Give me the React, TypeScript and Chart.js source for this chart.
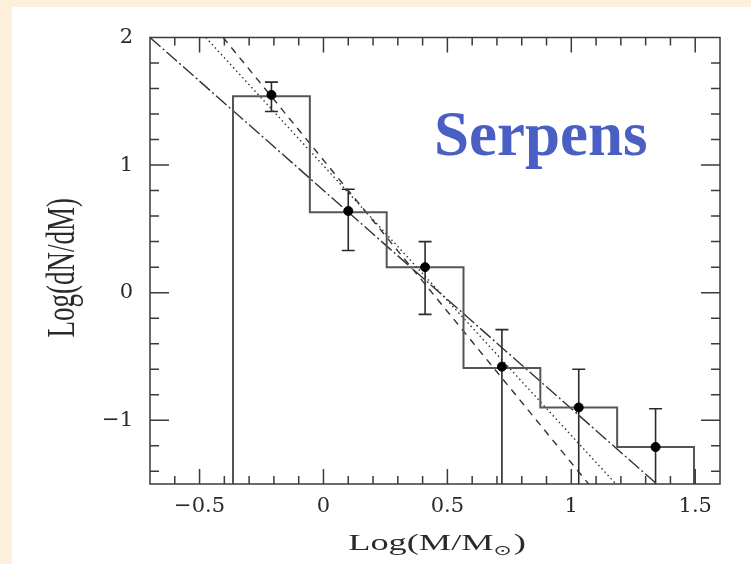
import React, { useEffect, useRef } from "react";
import { Chart, registerables } from "chart.js";

Chart.register(...registerables);

// ---- data ----
const binEdges = [-0.365, -0.055, 0.255, 0.565, 0.875, 1.185, 1.495];
const binLogN = [1.54, 0.63, 0.2, -0.59, -0.9, -1.21];
const pointLogM = [-0.21, 0.1, 0.41, 0.72, 1.03, 1.34];
const pointLogN = [1.55, 0.64, 0.2, -0.58, -0.9, -1.21];
const errUpper = [1.65, 0.81, 0.4, -0.29, -0.6, -0.91];
const errLower = [1.42, 0.33, -0.17, -1.5, -1.5, -1.5];
const fitDashDotX = [-0.7, 1.345];
const fitDashDotY = [2.0, -1.5];
const fitDashedX = [-0.405, 1.07];
const fitDashedY = [2.0, -1.5];
const fitDottedX = [-0.475, 1.18];
const fitDottedY = [2.0, -1.5];
const xTickValues = [-0.5, 0, 0.5, 1, 1.5];
const yTickValues = [2, 1, 0, -1];
const X_MIN = -0.7;
const X_MAX = 1.6;
const Y_MIN = -1.5;
const Y_MAX = 2;
const REGION_LABEL = "Serpens";
const Y_TITLE = "Log(dN/dM)";
const X_TITLE_MAIN = "Log(M/M";
const X_TITLE_SUB = "\u2299";
const X_TITLE_END = ")";

const fmt = (v: number) => (v < 0 ? "\u2212" + Math.abs(v) : String(v));

const histPoints = (() => {
  const pts: { x: number; y: number }[] = [{ x: binEdges[0], y: Y_MIN }];
  binLogN.forEach((h, i) => {
    pts.push({ x: binEdges[i], y: h });
    pts.push({ x: binEdges[i + 1], y: h });
  });
  pts.push({ x: binEdges[binEdges.length - 1], y: Y_MIN });
  return pts;
})();

const pair = (xs: number[], ys: number[]) => xs.map((x, i) => ({ x, y: ys[i] }));

const decor = {
  id: "decor",
  beforeDraw(chart: any) {
    const ctx = chart.ctx;
    ctx.save();
    ctx.fillStyle = "#fcf0dc";
    ctx.fillRect(0, 0, chart.width, chart.height);
    ctx.fillStyle = "#ffffff";
    ctx.fillRect(12, 7, chart.width - 12, chart.height - 7);
    ctx.restore();
  },
  beforeDatasetsDraw(chart: any) {
    const ctx = chart.ctx;
    const xs = chart.scales.x;
    const ys = chart.scales.y;
    const area = chart.chartArea;
    ctx.save();
    ctx.beginPath();
    ctx.rect(area.left, area.top, area.right - area.left, area.bottom - area.top);
    ctx.clip();
    ctx.strokeStyle = "#2a2a2a";
    ctx.lineWidth = 1.6;
    pointLogM.forEach((m, i) => {
      const px = xs.getPixelForValue(m);
      const pt = ys.getPixelForValue(errUpper[i]);
      const pb = ys.getPixelForValue(errLower[i]);
      ctx.beginPath();
      ctx.moveTo(px, pt);
      ctx.lineTo(px, pb);
      ctx.moveTo(px - 6.5, pt);
      ctx.lineTo(px + 6.5, pt);
      if (errLower[i] > Y_MIN) {
        ctx.moveTo(px - 6.5, pb);
        ctx.lineTo(px + 6.5, pb);
      }
      ctx.stroke();
    });
    ctx.restore();
  },
  afterDatasetsDraw(chart: any) {
    const ctx = chart.ctx;
    const xs = chart.scales.x;
    const ys = chart.scales.y;
    const { left, right, top, bottom } = chart.chartArea;
    ctx.save();
    ctx.strokeStyle = "#3a3a3a";
    ctx.lineWidth = 1.5;
    // inward ticks
    ctx.beginPath();
    for (let k = 1; k < Math.round((X_MAX - X_MIN) / 0.1); k++) {
      const v = X_MIN + k * 0.1;
      const major = Math.abs(v * 2 - Math.round(v * 2)) < 1e-6;
      const len = major ? 15 : 8;
      const px = xs.getPixelForValue(v);
      ctx.moveTo(px, bottom);
      ctx.lineTo(px, bottom - len);
      ctx.moveTo(px, top);
      ctx.lineTo(px, top + len);
    }
    for (let k = 1; k < Math.round((Y_MAX - Y_MIN) / 0.1); k++) {
      const v = Y_MIN + k * 0.1;
      const r = Math.round(v * 10);
      if (r % 2 !== 0) continue;
      const major = r % 10 === 0;
      const len = major ? 19 : 9;
      const py = ys.getPixelForValue(v);
      ctx.moveTo(left, py);
      ctx.lineTo(left + len, py);
      ctx.moveTo(right, py);
      ctx.lineTo(right - len, py);
    }
    ctx.stroke();
    // frame
    ctx.strokeRect(left, top, right - left, bottom - top);

    // region label
    ctx.fillStyle = "#4a5fc4";
    ctx.font = "bold 63px 'Liberation Serif'";
    ctx.textAlign = "left";
    ctx.textBaseline = "alphabetic";
    ctx.fillText(REGION_LABEL, 434, 155);

    // y title
    ctx.fillStyle = "#2a2a2a";
    ctx.save();
    ctx.translate(63, (top + bottom) / 2 + 7);
    ctx.scale(1.5, 1);
    ctx.rotate(-Math.PI / 2);
    ctx.font = "27px 'Liberation Serif'";
    ctx.textAlign = "center";
    ctx.textBaseline = "middle";
    ctx.fillText(Y_TITLE, 0, 0);
    ctx.restore();

    // x title
    ctx.save();
    ctx.font = "23px 'Liberation Serif'";
    const wMain = ctx.measureText(X_TITLE_MAIN).width;
    ctx.font = "14px 'DejaVu Sans'";
    const wSub = ctx.measureText(X_TITLE_SUB).width;
    ctx.font = "23px 'Liberation Serif'";
    const wEnd = ctx.measureText(X_TITLE_END).width;
    const sx = 1.58;
    const total = (wMain + wSub + wEnd + 1) * sx;
    ctx.translate((left + right) / 2 + 2 - total / 2, 550);
    ctx.scale(sx, 1);
    ctx.textAlign = "left";
    ctx.textBaseline = "alphabetic";
    ctx.fillText(X_TITLE_MAIN, 0, 0);
    ctx.font = "14px 'DejaVu Sans'";
    ctx.fillText(X_TITLE_SUB, wMain, 5);
    ctx.font = "23px 'Liberation Serif'";
    ctx.fillText(X_TITLE_END, wMain + wSub + 1, 0);
    ctx.restore();

    ctx.restore();
  },
};

export default function App() {
  const ref = useRef<HTMLCanvasElement | null>(null);
  useEffect(() => {
    if (!ref.current) return;
    const tickFont = { family: "'DejaVu Serif'", size: 21 };
    const chart = new Chart(ref.current, {
      type: "scatter",
      data: {
        datasets: [
          {
            label: "data",
            data: pair(pointLogM, pointLogN),
            backgroundColor: "#000000",
            borderColor: "#000000",
            pointRadius: 4.5,
            showLine: false,
          },
          {
            label: "histogram",
            data: histPoints,
            showLine: true,
            borderColor: "#555555",
            borderWidth: 2,
            pointRadius: 0,
            fill: false,
          },
          {
            label: "fit dash-dot",
            data: pair(fitDashDotX, fitDashDotY),
            showLine: true,
            borderColor: "#333333",
            borderWidth: 1.4,
            borderDash: [14, 3, 2, 3],
            pointRadius: 0,
          },
          {
            label: "fit dashed",
            data: pair(fitDashedX, fitDashedY),
            showLine: true,
            borderColor: "#333333",
            borderWidth: 1.4,
            borderDash: [7, 6],
            pointRadius: 0,
          },
          {
            label: "fit dotted",
            data: pair(fitDottedX, fitDottedY),
            showLine: true,
            borderColor: "#333333",
            borderWidth: 1.4,
            borderDash: [1.5, 3],
            pointRadius: 0,
          },
        ],
      } as any,
      options: {
        animation: false,
        responsive: false,
        maintainAspectRatio: false,
        layout: { padding: { top: 37.5, right: 31, left: 0, bottom: 0 } },
        plugins: { legend: { display: false }, tooltip: { enabled: false }, title: { display: false } },
        scales: {
          x: {
            type: "linear",
            min: X_MIN,
            max: X_MAX,
            grid: { display: false, drawTicks: false },
            border: { display: false },
            afterFit: (s: any) => {
              s.height = 80;
            },
            afterBuildTicks: (s: any) => {
              s.ticks = xTickValues.map((v) => ({ value: v }));
            },
            ticks: {
              font: tickFont,
              color: "#2a2a2a",
              padding: 10,
              maxRotation: 0,
              autoSkip: false,
              callback: (v: any) => fmt(Number(v)),
            },
          },
          y: {
            type: "linear",
            min: Y_MIN,
            max: Y_MAX,
            grid: { display: false, drawTicks: false },
            border: { display: false },
            afterFit: (s: any) => {
              s.width = 150;
            },
            afterBuildTicks: (s: any) => {
              s.ticks = yTickValues.map((v) => ({ value: v }));
            },
            ticks: {
              font: tickFont,
              color: "#2a2a2a",
              padding: 17,
              autoSkip: false,
              callback: (v: any) => fmt(Number(v)),
            },
          },
        },
      } as any,
      plugins: [decor],
    });
    return () => chart.destroy();
  }, []);
  return (
    <div style={{ position: "fixed", left: 0, top: 0, width: 751, height: 564 }}>
      <canvas ref={ref} width={751} height={564} style={{ display: "block", width: 751, height: 564 }} />
    </div>
  );
}
